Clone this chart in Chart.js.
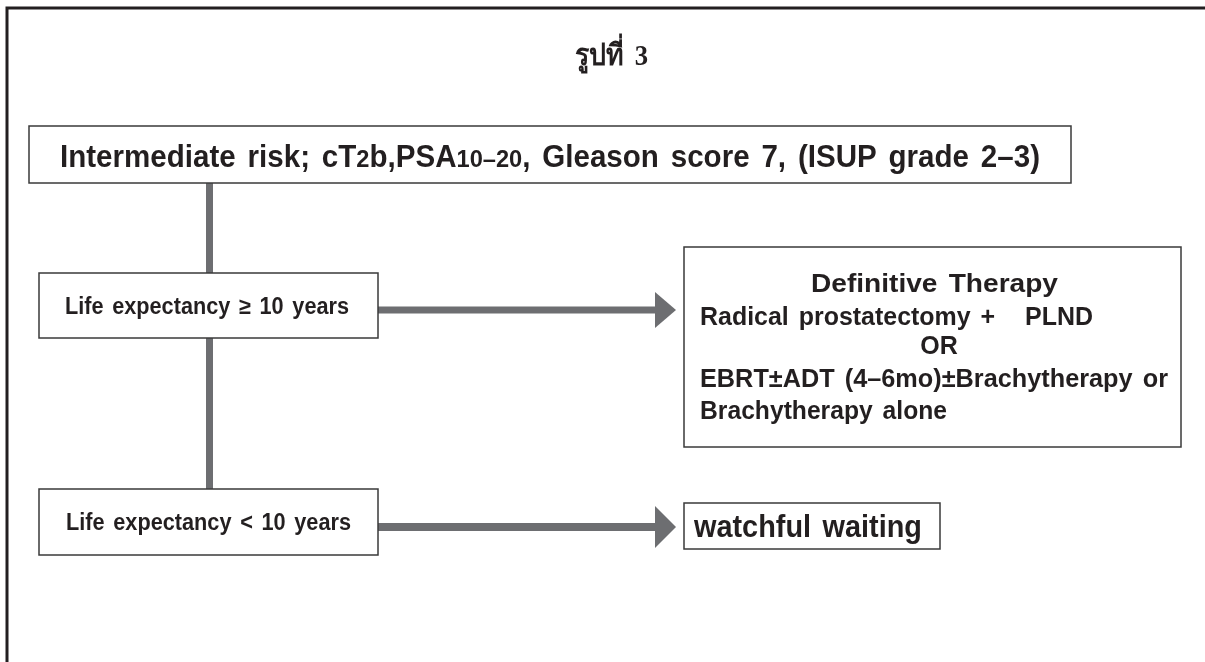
<!DOCTYPE html>
<html><head><meta charset="utf-8">
<script src="https://cdn.jsdelivr.net/npm/chart.js@4.4.1/dist/chart.umd.min.js"></script>
<style>html,body{margin:0;padding:0;background:#fff;overflow:hidden}canvas{display:block}</style>
</head><body><canvas id="c" width="1205" height="662"></canvas>
<script>
// ---- content (text of the flowchart) ----
const titleText = 'รูปที่ 3';
// risk group line: pieces with a relative size factor (digits set smaller in the original)
const riskGroup = [['Intermediate risk; cT', 1], ['2', 0.8], ['b,PSA', 1], ['10\u201320', 0.8], [', Gleason score 7, (ISUP grade 2\u20133)', 1]];
const branchLabels = ['Life expectancy \u2265 10 years', 'Life expectancy < 10 years'];
const therapyHeading = 'Definitive Therapy';
const therapyLines = ['Radical prostatectomy +   PLND', 'OR', 'EBRT\u00b1ADT (4\u20136mo)\u00b1Brachytherapy or', 'Brachytherapy alone'];
const outcomeLabel = 'watchful waiting';

// ---- layout (scale units, 1 unit = 1 px) ----
const L = {
  title: {x1: 575, x2: 648, base: 65, size: 30},
  topText: {x1: 60, x2: 1040, base: 167, size: 31},
  topBox: {x1: 29, x2: 1071, y1: 126, y2: 183},
  trunk: {x: 209.5, y1: 183, y2: 489, w: 7},
  branchBoxes: [{x1: 39, x2: 378, y1: 273, y2: 338}, {x1: 39, x2: 378, y1: 489, y2: 555}],
  branchTexts: [{x1: 65, x2: 349, base: 314, size: 23}, {x1: 66, x2: 351, base: 530, size: 23}],
  arrows: [{x1: 378, x2: 676, y: 310, w: 7, head: 21, half: 18}, {x1: 378, x2: 676, y: 527, w: 8, head: 21, half: 21}],
  therapyBox: {x1: 684, x2: 1181, y1: 247, y2: 447},
  therapyHead: {x1: 811, x2: 1058, base: 292, size: 26},
  therapyText: [{x1: 700, x2: 1093, base: 325}, {cx: 939, base: 354}, {x1: 700, x2: 1168, base: 387}, {x1: 700, x2: 947, base: 419}],
  therapySize: 25,
  outcomeBox: {x1: 684, x2: 940, y1: 503, y2: 549},
  outcomeText: {x1: 694, x2: 922, base: 537, size: 31},
  frame: {x: 7, y: 8, w: 3},
  gapFactor: 0.4
};
const GREY = '#6d6e71', INK = '#231f20', EDGE = '#3a3a3a';
const SANS = '"Liberation Sans", Arial, Helvetica, sans-serif';
const SERIF = '"Liberation Serif", "Times New Roman", serif';

function seg(x1, y1, x2, y2, w) {
  return {data: [{x: x1, y: y1}, {x: x2, y: y2}], showLine: true, borderColor: GREY, backgroundColor: GREY,
          borderWidth: w, pointRadius: 0, borderCapStyle: 'butt', fill: false};
}
const datasets = [seg(L.trunk.x, L.trunk.y1, L.trunk.x, L.trunk.y2, L.trunk.w)];
L.arrows.forEach(a => datasets.push(seg(a.x1, a.y, a.x2 - a.head + 1, a.y, a.w)));

function drawRuns(c, runs, t, size, fam, X, Y) {
  const items = []; let pending = 0;
  runs.forEach(([s, f]) => {
    s.split(' ').forEach((part, j) => {
      if (j > 0) pending++;
      if (part !== '') {
        const font = 'bold ' + (size * f) + 'px ' + fam;
        c.font = font;
        items.push({text: part, font, w: c.measureText(part).width, gaps: items.length ? pending : 0});
        pending = 0;
      }
    });
  });
  const W = items.reduce((a, b) => a + b.w, 0), G = items.reduce((a, b) => a + b.gaps, 0);
  c.fillStyle = INK; c.textAlign = 'left'; c.textBaseline = 'alphabetic';
  const gap = L.gapFactor * size;
  let sx = 1, x0;
  if (t.cx !== undefined) {
    x0 = X(t.cx) - (W + G * gap) / 2;
  } else {
    x0 = X(t.x1);
    sx = (X(t.x2) - X(t.x1)) / (W + G * gap);
  }
  c.save(); c.translate(x0, Y(t.base)); c.scale(sx, 1);
  let x = 0;
  items.forEach(it => { x += it.gaps * gap; c.font = it.font; c.fillText(it.text, x, 0); x += it.w; });
  c.restore();
}

const flowPlugin = {
  id: 'flow',
  beforeDraw(chart) {
    const c = chart.ctx; c.save(); c.fillStyle = '#fff'; c.fillRect(0, 0, chart.width, chart.height); c.restore();
  },
  afterDatasetsDraw(chart) {
    const c = chart.ctx, xs = chart.scales.x, ys = chart.scales.y;
    const X = v => xs.getPixelForValue(v), Y = v => ys.getPixelForValue(v);
    c.save();
    c.strokeStyle = INK; c.lineWidth = L.frame.w;
    c.beginPath(); c.moveTo(X(L.frame.x), Y(662)); c.lineTo(X(L.frame.x), Y(L.frame.y)); c.lineTo(X(1205), Y(L.frame.y)); c.stroke();
    c.fillStyle = GREY;
    L.arrows.forEach(a => {
      c.beginPath(); c.moveTo(X(a.x2 - a.head), Y(a.y - a.half)); c.lineTo(X(a.x2), Y(a.y)); c.lineTo(X(a.x2 - a.head), Y(a.y + a.half)); c.closePath(); c.fill();
    });
    const box = b => {
      c.fillStyle = '#fff'; c.fillRect(X(b.x1), Y(b.y1), X(b.x2) - X(b.x1), Y(b.y2) - Y(b.y1));
      c.strokeStyle = EDGE; c.lineWidth = 1.5; c.strokeRect(X(b.x1), Y(b.y1), X(b.x2) - X(b.x1), Y(b.y2) - Y(b.y1));
    };
    box(L.topBox); L.branchBoxes.forEach(box); box(L.therapyBox); box(L.outcomeBox);
    drawRuns(c, [[titleText, 1]], L.title, L.title.size, SERIF, X, Y);
    drawRuns(c, riskGroup, L.topText, L.topText.size, SANS, X, Y);
    branchLabels.forEach((s, i) => drawRuns(c, [[s, 1]], L.branchTexts[i], L.branchTexts[i].size, SANS, X, Y));
    drawRuns(c, [[therapyHeading, 1]], L.therapyHead, L.therapyHead.size, SANS, X, Y);
    therapyLines.forEach((s, i) => drawRuns(c, [[s, 1]], L.therapyText[i], L.therapySize, SANS, X, Y));
    drawRuns(c, [[outcomeLabel, 1]], L.outcomeText, L.outcomeText.size, SANS, X, Y);
    c.restore();
  }
};

new Chart(document.getElementById('c'), {
  type: 'scatter',
  data: {datasets},
  options: {
    responsive: false, animation: false, events: [],
    layout: {padding: 0, autoPadding: false},
    plugins: {legend: {display: false}, tooltip: {enabled: false}, title: {display: false}},
    scales: {
      x: {type: 'linear', min: 0, max: 1205, display: false},
      y: {type: 'linear', min: 0, max: 662, reverse: true, display: false}
    }
  },
  plugins: [flowPlugin]
});
</script></body></html>
